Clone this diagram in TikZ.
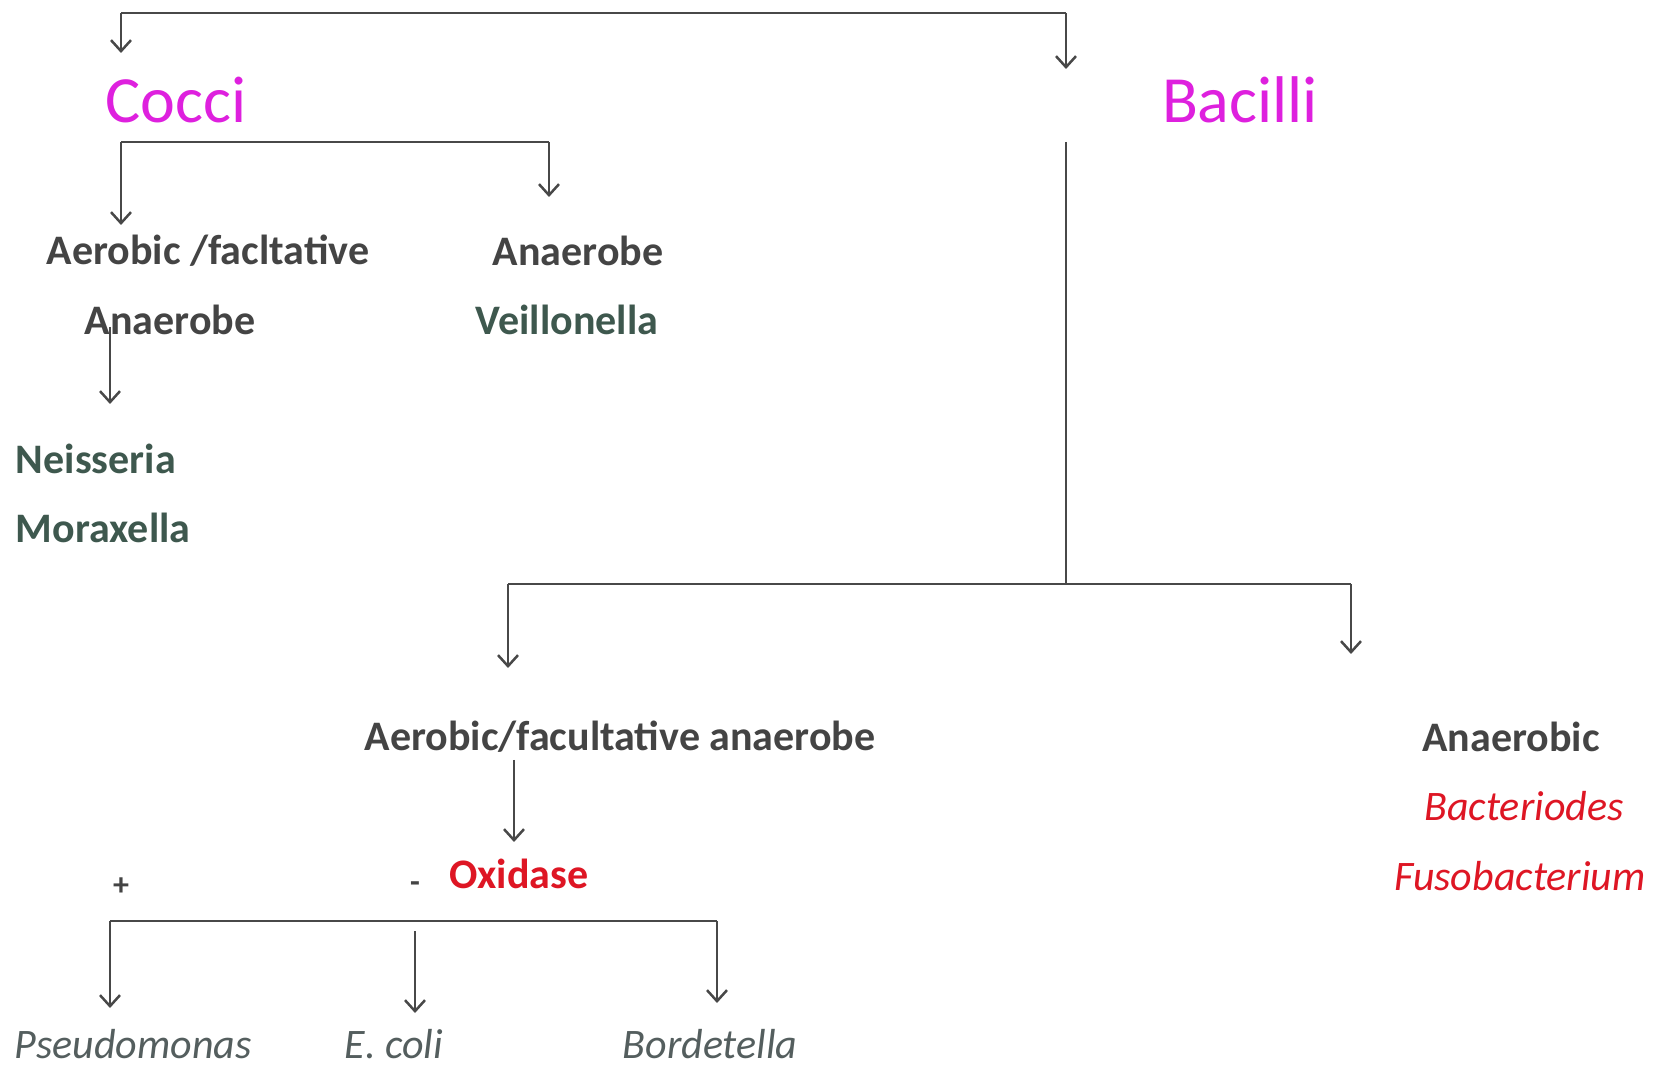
\documentclass[tikz,border=0pt]{standalone}
\usepackage{fontspec}
\setmainfont{Carlito}
\usetikzlibrary{arrows.meta}
\definecolor{mag}{RGB}{222,32,222}
\definecolor{txtgray}{RGB}{68,68,68}
\definecolor{genus}{RGB}{62,88,78}
\definecolor{redt}{RGB}{222,22,36}
\definecolor{itgray}{RGB}{84,94,94}
\definecolor{linec}{RGB}{72,72,72}
\begin{document}
\begin{tikzpicture}[x=0.5pt,y=-0.5pt,
  base/.style={inner sep=0pt, outer sep=0pt},
  big/.style={base, font=\fontsize{33}{38}\selectfont, text=mag},
  lbl/.style={base, font=\fontsize{21}{25}\selectfont\bfseries, text=txtgray},
  gen/.style={base, font=\fontsize{21}{25}\selectfont\bfseries, text=genus},
  redb/.style={base, font=\fontsize{21}{25}\selectfont\bfseries, text=redt},
  redi/.style={base, font=\fontsize{21}{25}\selectfont\itshape, text=redt},
  grayi/.style={base, font=\fontsize{21}{25}\selectfont\itshape, text=itgray},
  sign/.style={base, font=\fontsize{16}{18}\selectfont\bfseries, text=txtgray},
  conn/.style={draw=linec, line width=1.25pt},
  arr/.style={conn, -{Straight Barb[length=5.5pt,width=10pt]}}]
\useasboundingbox (0,0) rectangle (1655,1068);
\fill[white] (0,0) rectangle (1655,1068);

% nodes
\node[big] (cocci) at (176,100) {Cocci};
\node[big] (bacilli) at (1240,100) {Bacilli};
\node[lbl] (aerfac) at (208,251) {Aerobic /facltative};
\node[lbl] (anaer1) at (170,320) {Anaerobe};
\node[lbl] (anaer2) at (578,251) {Anaerobe};
\node[gen] (veil) at (567,320) {Veillonella};
\node[gen, anchor=west] (neis) at (16,459) {Neisseria};
\node[gen, anchor=west] (mora) at (16,528) {Moraxella};
\node[lbl] (afa) at (620,737) {Aerobic/facultative anaerobe};
\node[redb] (oxi) at (519,874) {Oxidase};
\node[sign] (minus) at (415,887) {-};
\node[sign] (plus) at (121,887) {+};
\node[grayi] (pseudo) at (133,1044) {Pseudomonas};
\node[grayi] (ecoli) at (394,1044) {E. coli};
\node[grayi] (borde) at (710,1044) {Bordetella};
\node[lbl] (anaerobic) at (1511,737) {Anaerobic};
\node[redi] (bact) at (1524,806) {Bacteriodes};
\node[redi] (fuso) at (1520,876) {Fusobacterium};

% coordinates
\coordinate (topL) at (121,13);
\coordinate (topR) at (1066,13);
\coordinate (cocciEnd) at (121,53);
\coordinate (bacEnd) at (1066,69);
\coordinate (cbL) at (121,142);
\coordinate (cbR) at (549,142);
\coordinate (aerEnd) at (121,225);
\coordinate (anaEnd) at (549,197);
\coordinate (nStart) at (110,327);
\coordinate (nEnd) at (110,404);
\coordinate (bTop) at (1066,142);
\coordinate (bJoin) at (1066,584);
\coordinate (bL) at (508,584);
\coordinate (bR) at (1351,584);
\coordinate (afaEnd) at (508,668);
\coordinate (anbEnd) at (1351,654);
\coordinate (oxStart) at (514,760);
\coordinate (oxEnd) at (514,842);
\coordinate (oL) at (110,921);
\coordinate (oR) at (717,921);
\coordinate (psEnd) at (110,1008);
\coordinate (boEnd) at (717,1003);
\coordinate (ecStart) at (415,931);
\coordinate (ecEnd) at (415,1013);

% connectors
\draw[arr] (cocciEnd |- topL) -- (cocciEnd);
\draw[conn] (topL) -- (topR);
\draw[arr] (topR) -- (bacEnd);
\draw[conn] (cbL) -- (cbR);
\draw[arr] (cbL) -- (aerEnd);
\draw[arr] (cbR) -- (anaEnd);
\draw[arr] (nStart) -- (nEnd);
\draw[conn] (bTop) -- (bJoin);
\draw[conn] (bL) -- (bR);
\draw[arr] (bL) -- (afaEnd);
\draw[arr] (bR) -- (anbEnd);
\draw[arr] (oxStart) -- (oxEnd);
\draw[conn] (oL) -- (oR);
\draw[arr] (oL) -- (psEnd);
\draw[arr] (oR) -- (boEnd);
\draw[arr] (ecStart) -- (ecEnd);
\end{tikzpicture}
\end{document}
